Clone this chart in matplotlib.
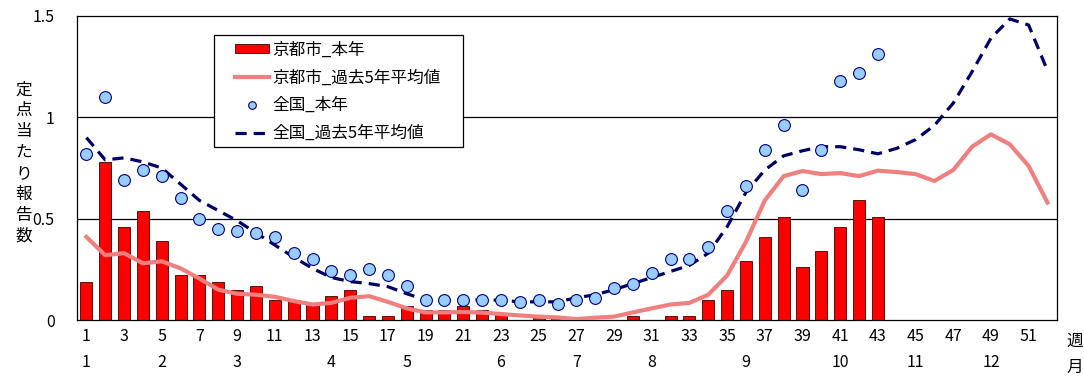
import numpy as np
import matplotlib.pyplot as plt
from matplotlib.patches import Rectangle

plt.rcParams['font.family'] = ['Noto Sans CJK JP', 'DejaVu Sans']

# data
weeks = np.arange(1, 53)
kyoto_now = [0.19, 0.78, 0.46, 0.54, 0.39, 0.22, 0.22, 0.19, 0.15, 0.17,
             0.10, 0.10, 0.08, 0.12, 0.15, 0.02, 0.02, 0.07, 0.05, 0.05,
             0.07, 0.05, 0.03, 0.00, 0.02, 0.02, 0.00, 0.00, 0.00, 0.02,
             0.00, 0.02, 0.02, 0.10, 0.15, 0.29, 0.41, 0.51, 0.26, 0.34,
             0.46, 0.59, 0.51]
kyoto_avg = [0.41, 0.32, 0.33, 0.28, 0.29, 0.255, 0.205, 0.15, 0.13, 0.125,
             0.115, 0.094, 0.077, 0.085, 0.11, 0.118, 0.09, 0.058, 0.038, 0.038,
             0.04, 0.037, 0.03, 0.023, 0.017, 0.013, 0.005, 0.012, 0.017, 0.038,
             0.058, 0.077, 0.085, 0.125, 0.22, 0.386, 0.59, 0.71, 0.735, 0.72,
             0.725, 0.71, 0.737, 0.73, 0.72, 0.686, 0.74, 0.855, 0.916, 0.867,
             0.76, 0.58]
japan_now = [0.82, 1.10, 0.69, 0.74, 0.71, 0.60, 0.50, 0.45, 0.44, 0.43,
             0.41, 0.33, 0.30, 0.24, 0.22, 0.25, 0.22, 0.17, 0.10, 0.10,
             0.10, 0.10, 0.10, 0.09, 0.10, 0.08, 0.10, 0.11, 0.16, 0.18,
             0.23, 0.30, 0.30, 0.36, 0.54, 0.66, 0.84, 0.96, 0.64, 0.84,
             1.18, 1.22, 1.31]
japan_avg = [0.90, 0.79, 0.80, 0.78, 0.75, 0.67, 0.59, 0.54, 0.49, 0.43,
             0.37, 0.31, 0.255, 0.21, 0.19, 0.18, 0.165, 0.13, 0.10, 0.10,
             0.10, 0.10, 0.098, 0.09, 0.09, 0.09, 0.11, 0.125, 0.15, 0.18,
             0.21, 0.24, 0.27, 0.33, 0.46, 0.63, 0.74, 0.81, 0.835, 0.855,
             0.855, 0.84, 0.82, 0.847, 0.89, 0.96, 1.07, 1.225, 1.39, 1.485,
             1.455, 1.23]
month_weeks = [1, 5, 9, 14, 18, 23, 27, 31, 36, 41, 45, 49]
month_labels = [str(m) for m in range(1, 13)]

fig, ax = plt.subplots(figsize=(10.84, 3.88), dpi=100)
fig.subplots_adjust(left=0.071, right=0.975, top=0.959, bottom=0.175)

b = ax.bar(weeks[:len(kyoto_now)], kyoto_now, width=0.64, color='#ff0000',
           edgecolor='#400000', linewidth=0.6, label='京都市_本年', zorder=2)
l1, = ax.plot(weeks, kyoto_avg, color='#f08080', lw=3,
              label='京都市_過去5年平均値', zorder=3)
p, = ax.plot(weeks[:len(japan_now)], japan_now, 'o', ms=8.5, mfc='#99ccff',
             mec='#000080', mew=0.8, label='全国_本年', zorder=4)
l2, = ax.plot(weeks, japan_avg, color='#000066', lw=2.3, dashes=(3.5, 2.2),
              label='全国_過去5年平均値', zorder=3)

ax.set_xlim(0.5, 52.5)
ax.set_ylim(0, 1.5)
ax.set_yticks([0, 0.5, 1, 1.5])
ax.set_yticklabels(['0', '0.5', '1', '1.5'])
ax.set_xticks(weeks[::2])
ax.set_xticklabels([str(w) for w in weeks[::2]])
ax.tick_params(length=0, labelsize=11.5, pad=6)
ax.tick_params(axis='y', pad=16)
for v in [0.5, 1.0]:
    ax.axhline(v, color='black', lw=0.9, zorder=1)
for s in ax.spines.values():
    s.set_linewidth(0.9)

for w, m in zip(month_weeks, month_labels):
    ax.text(w, -0.138, m, transform=ax.get_xaxis_transform(), ha='center',
            va='center', fontsize=11.5)
ax.text(1.010, -0.07, '週', transform=ax.transAxes, ha='left', va='center',
        fontsize=12)
ax.text(1.010, -0.155, '月', transform=ax.transAxes, ha='left', va='center',
        fontsize=12)
fig.text(0.022, 0.58, '\n'.join('定点当たり報告数'), ha='center', va='center',
         fontsize=12, linespacing=1.3)

# legend box drawn separately (wider side padding than matplotlib allows)
ax.add_patch(Rectangle((0.1398, 0.569), 0.2541, 0.3685, transform=ax.transAxes,
                       facecolor='white', edgecolor='black', lw=0.9, zorder=5))
leg = ax.legend([b, l1, p, l2],
                ['京都市_本年', '京都市_過去5年平均値', '全国_本年', '全国_過去5年平均値'],
                loc='upper left', bbox_to_anchor=(0.161, 0.915), fontsize=12,
                frameon=False, numpoints=1, markerscale=0.65,
                handlelength=2.05, handleheight=0.42, borderpad=0,
                labelspacing=0.64, handletextpad=0.2, borderaxespad=0)
leg.set_zorder(6)

fig.savefig('out.png', dpi=100)
